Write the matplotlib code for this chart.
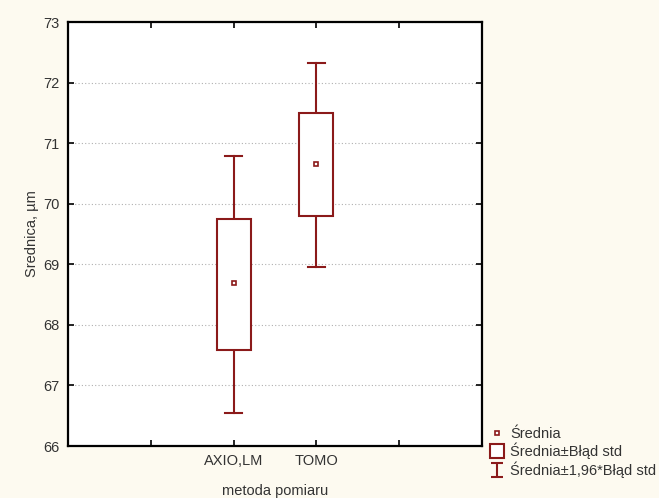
import matplotlib
matplotlib.use("Agg")
import matplotlib.pyplot as plt
from matplotlib.lines import Line2D
from matplotlib.patches import Rectangle
from matplotlib.path import Path

# data
categories = ["AXIO,LM", "TOMO"]
means = [68.69, 70.66]
box_low = [67.58, 69.80]   # mean - std error
box_high = [69.75, 71.50]  # mean + std error
whisk_low = [66.54, 68.96]  # mean - 1.96*std error
whisk_high = [70.79, 72.32]  # mean + 1.96*std error
positions = [2, 3]

col = "#8b1a1a"
txt = "#333333"
plt.rcParams["font.family"] = ["Liberation Sans", "DejaVu Sans"]

fig = plt.figure(figsize=(6.59, 4.98), dpi=100)
fig.patch.set_facecolor("#fdfaf0")
ax = fig.add_axes([0.1032, 0.1044, 0.6282, 0.8514])
ax.set_facecolor("white")

box_w = 0.41
cap_w = 0.2
for i, x in enumerate(positions):
    # whiskers
    ax.plot([x, x], [box_high[i], whisk_high[i]], color=col, lw=1.5)
    ax.plot([x, x], [whisk_low[i], box_low[i]], color=col, lw=1.5)
    ax.plot([x - cap_w / 2, x + cap_w / 2], [whisk_high[i]] * 2, color=col, lw=1.5)
    ax.plot([x - cap_w / 2, x + cap_w / 2], [whisk_low[i]] * 2, color=col, lw=1.5)
    # box
    ax.add_patch(Rectangle((x - box_w / 2, box_low[i]), box_w,
                           box_high[i] - box_low[i], facecolor="white",
                           edgecolor=col, lw=1.5, zorder=3))
    # mean
    ax.plot(x, means[i], marker="s", ms=3.5, mfc="white", mec=col, mew=1.2,
            ls="", zorder=4)

ax.set_xlim(0, 5)
ax.set_ylim(66, 73)
ax.set_xticks([1, 2, 3, 4])
ax.set_xticklabels(["", categories[0], categories[1], ""])
ax.set_yticks(range(66, 74))
ax.yaxis.grid(True, linestyle=(0, (1, 2)), color="#b0b0b0", lw=0.8)
ax.set_axisbelow(True)
ax.tick_params(direction="in", length=4, width=1.2, colors="black",
               labelcolor=txt, labelsize=10.5, top=True, right=True, pad=6)
for s in ax.spines.values():
    s.set_linewidth(1.6)
ax.set_xlabel("metoda pomiaru", color=txt, fontsize=10.5, labelpad=11)
ax.set_ylabel("Srednica, µm", color=txt, fontsize=10.5, labelpad=3)

# I-shaped marker for the legend
ibar = Path([(-0.4, 0.5), (0.4, 0.5), (0, 0.5), (0, -0.5), (-0.4, -0.5), (0.4, -0.5)],
            [Path.MOVETO, Path.LINETO, Path.MOVETO, Path.LINETO, Path.MOVETO, Path.LINETO])
handles = [
    Line2D([], [], marker="s", ms=3.5, mfc="white", mec=col, mew=1.2, ls=""),
    Line2D([], [], marker="s", ms=9.5, mfc="white", mec=col, mew=1.5, ls=""),
    Line2D([], [], marker=ibar, ms=10, mec=col, mew=1.5, ls=""),
]
labels = ["Średnia", "Średnia±Błąd std", "Średnia±1,96*Błąd std"]
fig.legend(handles, labels, loc="upper left", bbox_to_anchor=(0.737, 0.155),
           frameon=False, fontsize=10.5, handlelength=0.8, handletextpad=0.5,
           labelspacing=0.15, borderaxespad=0, labelcolor=txt)

fig.savefig("out.png", dpi=100, facecolor=fig.get_facecolor())
